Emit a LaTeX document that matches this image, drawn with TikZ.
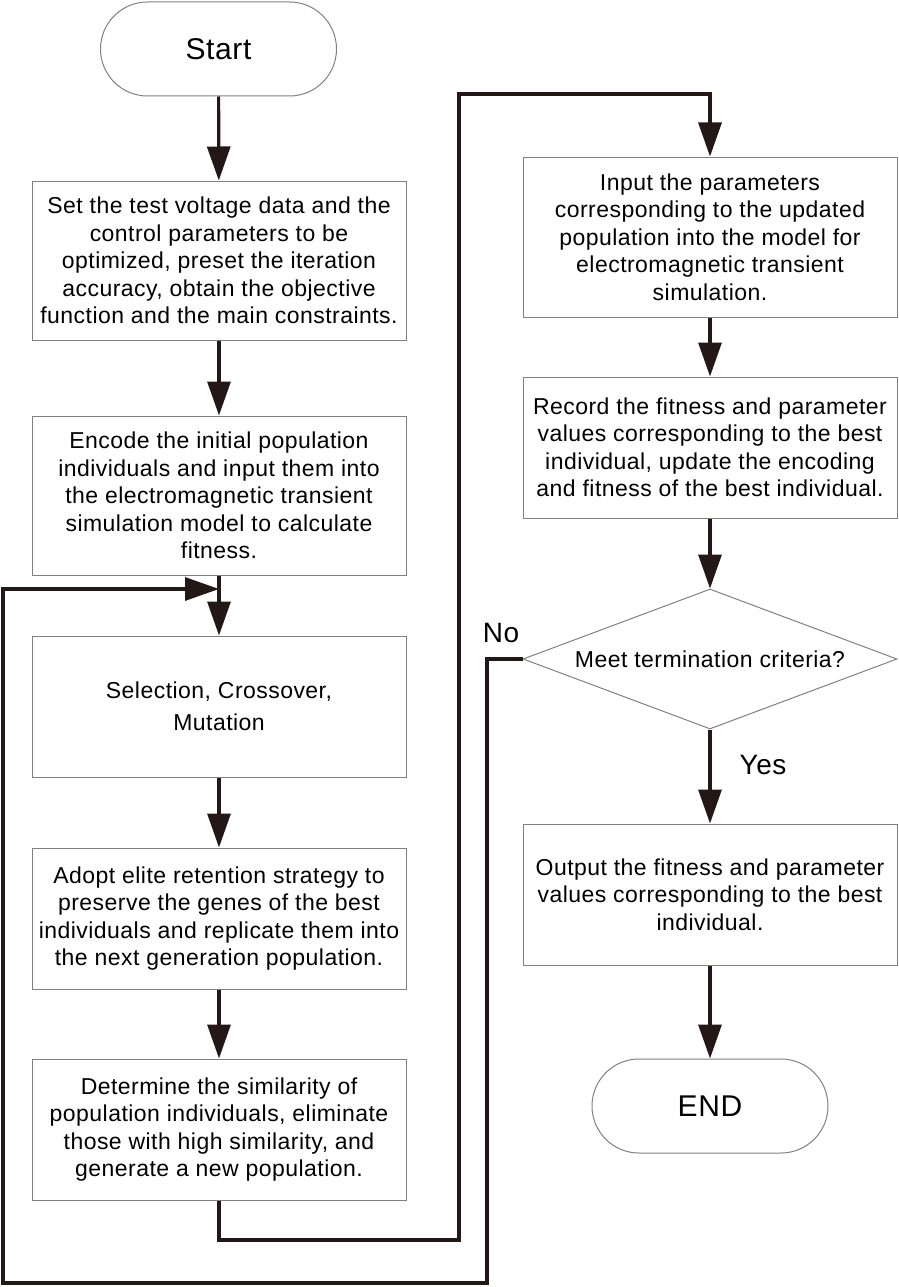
\documentclass[tikz,border=0pt]{standalone}
\usepackage{fontspec}
\setmainfont{Liberation Sans}[LetterSpace=2]
\usepackage{tikz}
\usetikzlibrary{arrows.meta,shapes.geometric}
\definecolor{lineclr}{RGB}{35,24,21}
\definecolor{boxclr}{RGB}{128,128,128}

\begin{document}
\begin{tikzpicture}[
	x=1pt, y=-1pt,
	every node/.style = {align=center, inner sep=3pt,
		font=\fontsize{23pt}{27.5pt}\selectfont},
	procbox/.style = {shape=rectangle, draw=boxclr, line width=1pt,
		minimum width=374pt, minimum height=141pt},
	termbox/.style = {shape=rectangle, draw=boxclr, line width=1pt,
		rounded corners=47pt, minimum width=236pt, minimum height=94pt,
		font=\fontsize{30pt}{36pt}\selectfont},
	checkbox/.style = {shape=diamond, draw=boxclr, line width=1pt,
		aspect=2.67, inner sep=0pt, minimum width=374pt, minimum height=140pt},
	lbl/.style = {font=\fontsize{28pt}{34pt}\selectfont},
	flow/.style = {draw=lineclr, line width=3.2pt, line join=miter,
		-{Triangle[width=23pt,length=34pt]}}]
	\useasboundingbox (0,0) rectangle (899,1287);

	% left column
	\node[termbox] (start) at (218.5,49) {Start};
	\node[procbox, minimum height=159pt] (setdata) at (219,260.5)
		{Set the test voltage data and the\\ control parameters to be\\
		 optimized, preset the iteration\\ accuracy, obtain the objective\\
		 function and the main constraints.};
	\node[procbox, minimum height=159pt] (encode) at (219,495.5)
		{Encode the initial population\\ individuals and input them into\\
		 the electromagnetic transient\\ simulation model to calculate\\ fitness.};
	\node[procbox, font=\fontsize{23pt}{32pt}\selectfont] (select) at (219,706.5)
		{Selection, Crossover,\\ Mutation};
	\node[procbox] (elite) at (219,918.5)
		{Adopt elite retention strategy to\\ preserve the genes of the best\\
		 individuals and replicate them into\\ the next generation population.};
	\node[procbox] (similar) at (219,1129.5)
		{Determine the similarity of\\ population individuals, eliminate\\
		 those with high similarity, and\\ generate a new population.};

	% right column
	\node[procbox, minimum height=160pt] (input) at (710,237)
		{Input the parameters\\ corresponding to the updated\\
		 population into the model for\\ electromagnetic transient\\ simulation.};
	\node[procbox] (record) at (710,447.5)
		{Record the fitness and parameter\\ values corresponding to the best\\
		 individual, update the encoding\\ and fitness of the best individual.};
	\node[checkbox] (check) at (710,659) {Meet termination criteria?};
	\node[procbox] (output) at (710,894.5)
		{Output the fitness and parameter\\ values corresponding to the best\\ individual.};
	\node[termbox] (finish) at (710,1106) {END};

	\node[lbl] (nolbl) at (501,633) {No};
	\node[lbl] (yeslbl) at (763,765) {Yes};

	% bends of the loops
	\coordinate (upA) at (459,1240);
	\coordinate (upB) at (459,94);
	\coordinate (backA) at (487,1283);
	\coordinate (backB) at (3,589);

	\draw[flow] (start) -- (setdata);
	\draw[flow] (setdata) -- (encode);
	\draw[flow] (encode) -- (select);
	\draw[flow] (select) -- (elite);
	\draw[flow] (elite) -- (similar);
	\draw[flow] (similar.south) |- (upA) -- (upB) -| (input.north);
	\draw[flow] (input) -- (record);
	\draw[flow] (record) -- (check);
	\draw[flow] (check) -- (output);
	\draw[flow] (output) -- (finish);
	\draw[flow] (check.west) -| (backA) -| (backB) -- (encode.south |- backB);
\end{tikzpicture}
\end{document}
